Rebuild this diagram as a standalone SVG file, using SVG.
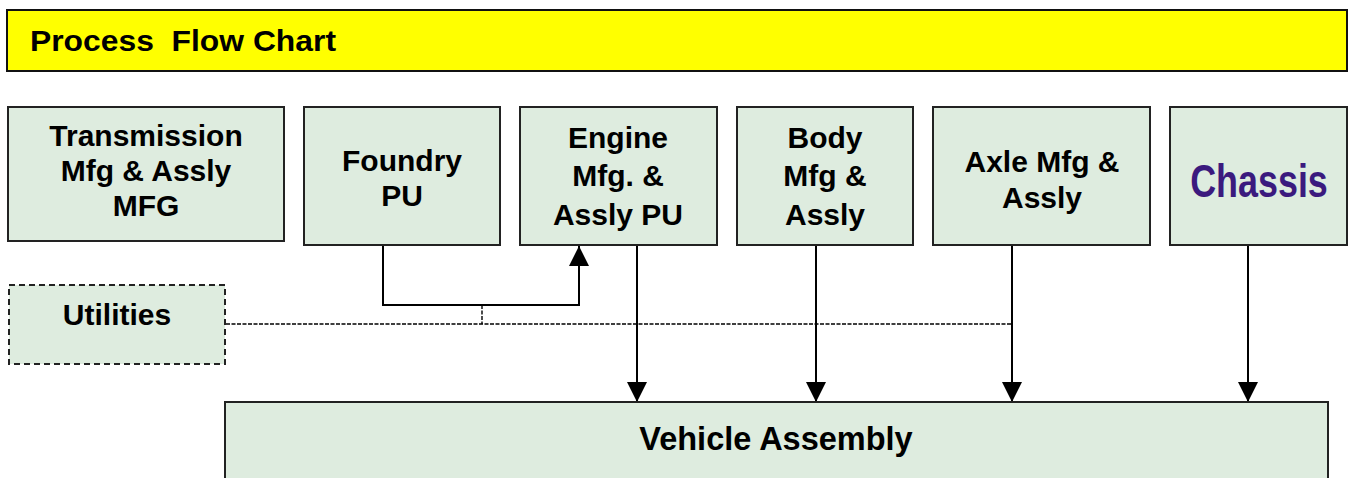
<svg xmlns="http://www.w3.org/2000/svg" width="1349" height="478" viewBox="0 0 1349 478">
<style>
.box{fill:#DEECDF;stroke:#222;stroke-width:2}
.dbox{fill:#DEECDF;stroke:#222;stroke-width:2;stroke-dasharray:6,4}
.t{font-family:"Liberation Sans",Arial,sans-serif;font-weight:bold;font-size:30px;fill:#000;text-anchor:middle}
.ln{fill:none;stroke:#000;stroke-width:2}
.dl{fill:none;stroke:#000;stroke-width:1.4;stroke-dasharray:4,1.5}
</style>
<defs>
<marker id="ah" viewBox="0 0 20 20" refX="20" refY="10" markerWidth="20" markerHeight="20" markerUnits="userSpaceOnUse" orient="auto">
<path d="M0,0 L20,10 L0,20 Z" fill="#000"/>
</marker>
</defs>
<g id="title">
<rect x="7" y="10" width="1340" height="61" fill="#FFFF00" stroke="#111" stroke-width="2"/>
<text x="30" y="51" textLength="306" lengthAdjust="spacingAndGlyphs" style="font-family:'Liberation Sans',Arial,sans-serif;font-weight:bold;font-size:30px" xml:space="preserve">Process  Flow Chart</text>
</g>
<g id="connectors">
<polyline class="ln" points="383,245 383,305 579,305 579,246" marker-end="url(#ah)"/>
<line class="dl" x1="226" y1="324" x2="1012" y2="324"/>
<line class="dl" x1="482" y1="305" x2="482" y2="324"/>
<line class="ln" x1="637" y1="245" x2="637" y2="402" marker-end="url(#ah)"/>
<line class="ln" x1="816" y1="245" x2="816" y2="402" marker-end="url(#ah)"/>
<line class="ln" x1="1012" y1="245" x2="1012" y2="402" marker-end="url(#ah)"/>
<line class="ln" x1="1248" y1="245" x2="1248" y2="402" marker-end="url(#ah)"/>
</g>
<g id="transmission">
<rect class="box" x="8" y="107" width="276" height="134"/>
<text class="t" x="146" y="146">Transmission</text>
<text class="t" x="146" y="181">Mfg &amp; Assly</text>
<text class="t" x="146" y="216">MFG</text>
</g>
<g id="foundry">
<rect class="box" x="304" y="107" width="196" height="138"/>
<text class="t" x="402" y="171">Foundry</text>
<text class="t" x="402" y="206">PU</text>
</g>
<g id="engine">
<rect class="box" x="520" y="107" width="197" height="138"/>
<text class="t" x="618" y="148">Engine</text>
<text class="t" x="618" y="186">Mfg. &amp;</text>
<text class="t" x="618" y="225">Assly PU</text>
</g>
<g id="body">
<rect class="box" x="737" y="107" width="176" height="138"/>
<text class="t" x="825" y="148">Body</text>
<text class="t" x="825" y="186">Mfg &amp;</text>
<text class="t" x="825" y="225">Assly</text>
</g>
<g id="axle">
<rect class="box" x="933" y="107" width="217" height="138"/>
<text class="t" x="1042" y="172">Axle Mfg &amp;</text>
<text class="t" x="1042" y="208">Assly</text>
</g>
<g id="chassis">
<rect class="box" x="1170" y="107" width="177" height="138"/>
<text class="t" transform="translate(1259,197) scale(0.78,1)" x="0" y="0" style="font-size:46px;fill:#3B1A7E">Chassis</text>
</g>
<g id="utilities">
<rect class="dbox" x="9" y="285" width="216" height="79"/>
<text class="t" x="117" y="325">Utilities</text>
</g>
<g id="vehicle">
<rect class="box" x="225" y="402" width="1103" height="90"/>
<text class="t" x="776" y="450" style="font-size:32.5px">Vehicle Assembly</text>
</g>
</svg>
